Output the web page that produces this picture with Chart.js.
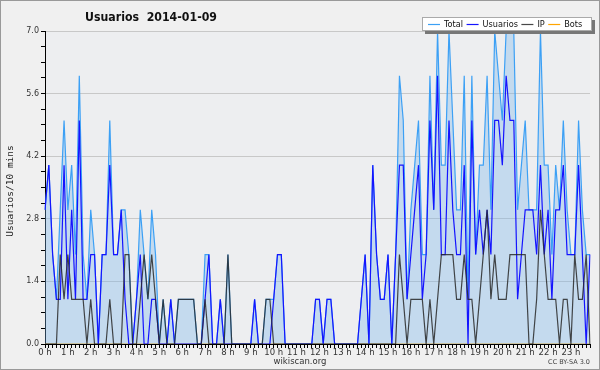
<!DOCTYPE html>
<html>
<head>
<meta charset="utf-8">
<script src="https://cdn.jsdelivr.net/npm/chart.js@4.4.1/dist/chart.umd.min.js"></script>
<style>
  html, body { margin: 0; padding: 0; background: #f0f0f0; }
  canvas { display: block; }
</style>
</head>
<body>
<canvas id="usuarios" width="600" height="370"></canvas>
<script>
// one slot every 10 minutes, 144 per day
const hourLabels = ['0 h', '1 h', '2 h', '3 h', '4 h', '5 h', '6 h', '7 h', '8 h', '9 h', '10 h', '11 h',
    '12 h', '13 h', '14 h', '15 h', '16 h', '17 h', '18 h', '19 h', '20 h', '21 h', '22 h', '23 h'];

const total = [
    3, 4, 2, 1, 3, 5, 3, 4, 2, 6, 2, 1,
    3, 2, 0, 2, 2, 5, 2, 2, 3, 3, 2, 0,
    1, 3, 2, 1, 3, 2, 0, 1, 0, 1, 0, 1,
    1, 1, 1, 1, 0, 0, 2, 2, 0, 0, 1, 0,
    2, 0, 0, 0, 0, 0, 0, 1, 0, 0, 1, 1,
    1, 2, 2, 0, 0, 0, 0, 0, 0, 0, 0, 1,
    1, 0, 1, 1, 0, 0, 0, 0, 0, 0, 0, 1,
    2, 0, 4, 2, 1, 1, 2, 0, 2, 6, 5, 1,
    3, 4, 5, 2, 2, 6, 3, 7, 4, 4, 7, 5,
    3, 3, 6, 1, 6, 2, 4, 4, 6, 3, 7, 6,
    5, 7, 7, 7, 3, 4, 5, 3, 3, 3, 7, 4,
    4, 2, 4, 3, 5, 3, 2, 2, 5, 3, 2, 2,
];

const usuarios = [
    3, 4, 2, 1, 1, 4, 1, 3, 1, 5, 1, 1,
    2, 2, 0, 2, 2, 4, 2, 2, 3, 1, 0, 0,
    1, 2, 0, 0, 1, 1, 0, 0, 0, 1, 0, 0,
    0, 0, 0, 0, 0, 0, 1, 2, 0, 0, 1, 0,
    0, 0, 0, 0, 0, 0, 0, 1, 0, 0, 0, 0,
    1, 2, 2, 0, 0, 0, 0, 0, 0, 0, 0, 1,
    1, 0, 1, 1, 0, 0, 0, 0, 0, 0, 0, 1,
    2, 0, 4, 2, 1, 1, 2, 0, 2, 4, 4, 1,
    2, 3, 4, 1, 2, 5, 3, 6, 2, 2, 5, 3,
    2, 2, 4, 0, 5, 2, 3, 2, 3, 2, 5, 5,
    4, 6, 5, 5, 1, 2, 3, 3, 3, 2, 4, 2,
    3, 1, 3, 3, 4, 2, 2, 2, 4, 2, 0, 2,
];

const ip = [
    0, 0, 0, 0, 2, 1, 2, 1, 1, 1, 1, 0,
    1, 0, 0, 0, 0, 1, 0, 0, 0, 2, 2, 0,
    0, 1, 2, 1, 2, 1, 0, 1, 0, 0, 0, 1,
    1, 1, 1, 1, 0, 0, 1, 0, 0, 0, 0, 0,
    2, 0, 0, 0, 0, 0, 0, 0, 0, 0, 1, 1,
    0, 0, 0, 0, 0, 0, 0, 0, 0, 0, 0, 0,
    0, 0, 0, 0, 0, 0, 0, 0, 0, 0, 0, 0,
    0, 0, 0, 0, 0, 0, 0, 0, 0, 2, 1, 0,
    1, 1, 1, 1, 0, 1, 0, 1, 2, 2, 2, 2,
    1, 1, 2, 1, 1, 0, 1, 2, 3, 1, 2, 1,
    1, 1, 2, 2, 2, 2, 2, 0, 0, 1, 3, 2,
    1, 1, 1, 0, 1, 1, 0, 2, 1, 1, 2, 0,
];

const bots = [
    0, 0, 0, 0, 0, 0, 0, 0, 0, 0, 0, 0,
    0, 0, 0, 0, 0, 0, 0, 0, 0, 0, 0, 0,
    0, 0, 0, 0, 0, 0, 0, 0, 0, 0, 0, 0,
    0, 0, 0, 0, 0, 0, 0, 0, 0, 0, 0, 0,
    0, 0, 0, 0, 0, 0, 0, 0, 0, 0, 0, 0,
    0, 0, 0, 0, 0, 0, 0, 0, 0, 0, 0, 0,
    0, 0, 0, 0, 0, 0, 0, 0, 0, 0, 0, 0,
    0, 0, 0, 0, 0, 0, 0, 0, 0, 0, 0, 0,
    0, 0, 0, 0, 0, 0, 0, 0, 0, 0, 0, 0,
    0, 0, 0, 0, 0, 0, 0, 0, 0, 0, 0, 0,
    0, 0, 0, 0, 0, 0, 0, 0, 0, 0, 0, 0,
    0, 0, 0, 0, 0, 0, 0, 0, 0, 0, 0, 0,
];

const yMajorStep = 1.4;

const colors = {
    total: 'rgb(60, 160, 245)',
    totalFill: 'rgba(120, 180, 235, 0.35)',
    usuarios: 'rgb(20, 20, 255)',
    ip: 'rgba(40, 40, 40, 0.85)',
    bots: 'rgb(255, 165, 0)',
};

// slot labels: hour name on the first slot of each hour, blank otherwise
const slots = [];
hourLabels.forEach((h) => {
    for (let m = 0; m < 6; m++) slots.push(m === 0 ? h : '');
});

const isMajor = (v) => Math.abs(v / yMajorStep - Math.round(v / yMajorStep)) < 1e-6;

// the original uses a narrow face, so squeeze text horizontally
const squeezed = (ctx, text, x, y, sx) => {
    ctx.save();
    ctx.translate(x, y);
    ctx.scale(sx, 1);
    ctx.fillText(text, 0, 0);
    ctx.restore();
    return ctx.measureText(text).width * sx;
};

const decorations = {
    id: 'decorations',
    beforeDraw(chart) {
        const { ctx, chartArea: a } = chart;
        ctx.save();
        ctx.fillStyle = '#f0f0f0';
        ctx.fillRect(0, 0, chart.width, chart.height);
        ctx.fillStyle = '#edeef0';
        ctx.fillRect(a.left, a.top, a.right - a.left, a.bottom - a.top);
        ctx.restore();
    },
    afterDraw(chart) {
        const { ctx } = chart;
        ctx.save();

        // title
        ctx.fillStyle = '#111';
        ctx.font = 'bold 12.5px "DejaVu Sans"';
        ctx.textBaseline = 'alphabetic';
        ctx.textAlign = 'left';
        const tw = ctx.measureText('Usuarios  2014-01-09').width;
        squeezed(ctx, 'Usuarios  2014-01-09', 85, 21, 132 / tw);

        // y title
        ctx.save();
        ctx.translate(11, 191);
        ctx.rotate(-Math.PI / 2);
        ctx.font = '9.5px "DejaVu Sans Mono"';
        ctx.textAlign = 'center';
        ctx.textBaseline = 'middle';
        ctx.fillStyle = '#222';
        ctx.fillText('Usuarios/10 mins', 0, 0);
        ctx.restore();

        // legend box
        const items = [
            ['Total', colors.total],
            ['Usuarios', colors.usuarios],
            ['IP', colors.ip],
            ['Bots', colors.bots],
        ];
        ctx.fillStyle = '#777';
        ctx.fillRect(425, 20, 170, 14);
        ctx.fillStyle = '#fff';
        ctx.fillRect(422, 17, 170, 14);
        ctx.strokeStyle = '#aaa';
        ctx.lineWidth = 1;
        ctx.strokeRect(422.5, 17.5, 169, 13);
        ctx.font = '9.5px "DejaVu Sans"';
        ctx.textBaseline = 'middle';
        let x = 428;
        items.forEach(([label, color]) => {
            ctx.strokeStyle = color;
            ctx.lineWidth = 1.2;
            ctx.beginPath();
            ctx.moveTo(x, 24.5);
            ctx.lineTo(x + 12, 24.5);
            ctx.stroke();
            x += 16;
            ctx.fillStyle = '#111';
            x += squeezed(ctx, label, x, 24.5, 0.86) + 3.5;
        });

        // footer
        ctx.fillStyle = '#333';
        ctx.textAlign = 'center';
        ctx.textBaseline = 'alphabetic';
        ctx.font = '8.5px "DejaVu Sans"';
        ctx.fillText('wikiscan.org', 300, 364);
        ctx.textAlign = 'right';
        ctx.font = '6.5px "DejaVu Sans"';
        ctx.fillStyle = '#444';
        ctx.fillText('CC BY-SA 3.0', 590, 364);

        // outer frame
        ctx.strokeStyle = '#999';
        ctx.lineWidth = 1;
        ctx.strokeRect(0.5, 0.5, chart.width - 1, chart.height - 1);
        ctx.restore();
    },
};

const ctx = document.getElementById('usuarios').getContext('2d');

const chartData = {
    labels: slots,
    datasets: [
        {
            label: 'Total',
            data: total,
            borderColor: colors.total,
            backgroundColor: colors.totalFill,
            borderWidth: 1.2,
            fill: 'origin',
            order: 4,
        },
        {
            label: 'Usuarios',
            data: usuarios,
            borderColor: colors.usuarios,
            borderWidth: 1.2,
            fill: false,
            order: 3,
        },
        {
            label: 'IP',
            data: ip,
            borderColor: colors.ip,
            borderWidth: 1.2,
            fill: false,
            order: 2,
        },
        {
            label: 'Bots',
            data: bots,
            borderColor: colors.bots,
            borderWidth: 1.2,
            fill: false,
            order: 5,
        },
    ],
};

const chartOptions = {
    responsive: false,
    animation: false,
    layout: { padding: { top: 31, right: 10, left: 0, bottom: 0 } },
    elements: { point: { radius: 0 }, line: { tension: 0 } },
    plugins: { legend: { display: false }, title: { display: false }, tooltip: { enabled: false } },
    scales: {
        x: {
            type: 'category',
            offset: false,
            afterFit: (s) => { s.height = 26; },
            border: { display: true, color: '#000', width: 1 },
            grid: { drawOnChartArea: false, tickLength: 4, tickColor: '#000' },
            ticks: {
                autoSkip: false,
                maxRotation: 0,
                padding: 0,
                color: '#333',
                font: { family: 'DejaVu Sans', size: 8.5 },
                callback: (v, i) => slots[i],
            },
        },
        y: {
            min: 0,
            max: 7,
            afterFit: (s) => { s.width = 45; },
            border: { display: true, color: '#000', width: 1 },
            grid: {
                color: (c) => (isMajor(c.tick.value) ? '#c8c8c8' : 'transparent'),
                tickColor: '#000',
                tickLength: 4,
            },
            ticks: {
                stepSize: 0.35,
                padding: 2,
                color: '#333',
                font: { family: 'DejaVu Sans', size: 8 },
                callback: (v) => (isMajor(v) ? v.toFixed(1) : ''),
            },
        },
    },
};

new Chart(ctx, {
    type: 'line',
    data: chartData,
    options: chartOptions,
    plugins: [decorations],
});
</script>
</body>
</html>
